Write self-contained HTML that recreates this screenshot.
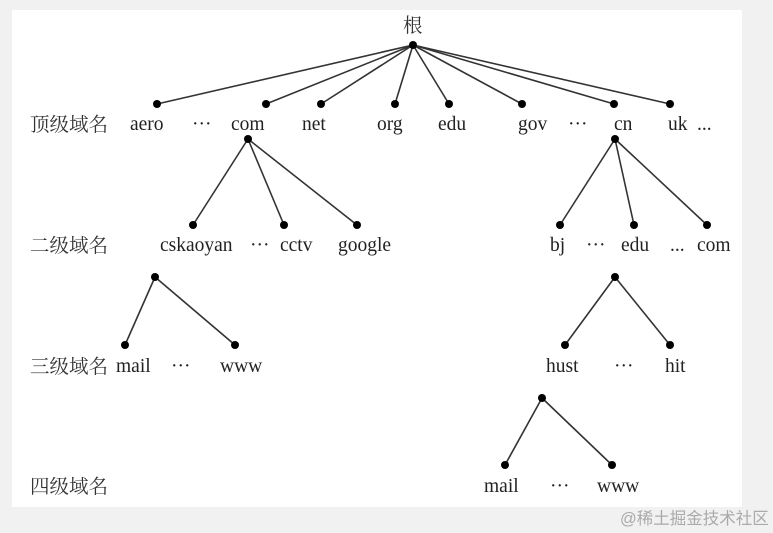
<!DOCTYPE html>
<html><head><meta charset="utf-8"><style>
html,body{margin:0;padding:0;background:#f1f1f1;}
svg{display:block;}
text{font-family:"Liberation Serif","Noto Serif CJK SC",serif;font-size:19.5px;fill:#222;}
.cn{font-family:"Liberation Serif","Noto Serif CJK SC",serif;font-size:19.5px;fill:#333;}
</style></head><body>
<svg width="773" height="533" viewBox="0 0 773 533">
<rect x="12" y="10" width="730" height="497" fill="#fff"/>
<g stroke="#333" stroke-width="1.6">
<line x1="413" y1="45" x2="157" y2="104"/><line x1="413" y1="45" x2="266" y2="104"/>
<line x1="413" y1="45" x2="321" y2="104"/><line x1="413" y1="45" x2="395" y2="104"/>
<line x1="413" y1="45" x2="449" y2="104"/><line x1="413" y1="45" x2="522" y2="104"/>
<line x1="413" y1="45" x2="614" y2="104"/><line x1="413" y1="45" x2="670" y2="104"/>
<line x1="248" y1="139" x2="193" y2="225"/><line x1="248" y1="139" x2="284" y2="225"/><line x1="248" y1="139" x2="357" y2="225"/>
<line x1="615" y1="139" x2="560" y2="225"/><line x1="615" y1="139" x2="634" y2="225"/><line x1="615" y1="139" x2="707" y2="225"/>
<line x1="155" y1="277" x2="125" y2="345"/><line x1="155" y1="277" x2="235" y2="345"/>
<line x1="615" y1="277" x2="565" y2="345"/><line x1="615" y1="277" x2="670" y2="345"/>
<line x1="542" y1="398" x2="505" y2="465"/><line x1="542" y1="398" x2="612" y2="465"/>
</g>
<g fill="#000">
<circle cx="413" cy="45" r="4"/>
<circle cx="157" cy="104" r="4"/><circle cx="266" cy="104" r="4"/><circle cx="321" cy="104" r="4"/><circle cx="395" cy="104" r="4"/><circle cx="449" cy="104" r="4"/><circle cx="522" cy="104" r="4"/><circle cx="614" cy="104" r="4"/><circle cx="670" cy="104" r="4"/>
<circle cx="248" cy="139" r="4"/><circle cx="615" cy="139" r="4"/>
<circle cx="193" cy="225" r="4"/><circle cx="284" cy="225" r="4"/><circle cx="357" cy="225" r="4"/>
<circle cx="560" cy="225" r="4"/><circle cx="634" cy="225" r="4"/><circle cx="707" cy="225" r="4"/>
<circle cx="155" cy="277" r="4"/><circle cx="125" cy="345" r="4"/><circle cx="235" cy="345" r="4"/>
<circle cx="615" cy="277" r="4"/><circle cx="565" cy="345" r="4"/><circle cx="670" cy="345" r="4"/>
<circle cx="542" cy="398" r="4"/><circle cx="505" cy="465" r="4"/><circle cx="612" cy="465" r="4"/>
</g>
<text class="cn" x="403" y="32">根</text>
<text class="cn" x="30" y="131">顶级域名</text>
<text x="130" y="130">aero</text><text x="192" y="130">···</text><text x="231" y="130">com</text><text x="302" y="130">net</text><text x="377" y="130">org</text><text x="438" y="130">edu</text><text x="518" y="130">gov</text><text x="568" y="130">···</text><text x="614" y="130">cn</text><text x="668" y="130">uk</text><text x="697" y="130">...</text>
<text class="cn" x="30" y="252">二级域名</text>
<text x="160" y="251">cskaoyan</text><text x="250" y="251">···</text><text x="280" y="251">cctv</text><text x="338" y="251">google</text><text x="550" y="251">bj</text><text x="586" y="251">···</text><text x="621" y="251">edu</text><text x="670" y="251">...</text><text x="697" y="251">com</text>
<text class="cn" x="30" y="373">三级域名</text>
<text x="116" y="372">mail</text><text x="171" y="372">···</text><text x="220" y="372">www</text><text x="546" y="372">hust</text><text x="614" y="372">···</text><text x="665" y="372">hit</text>
<text class="cn" x="30" y="493">四级域名</text>
<text x="484" y="492">mail</text><text x="550" y="492">···</text><text x="597" y="492">www</text>
<text x="620" y="524" style="font-family:'Liberation Sans','Noto Sans CJK SC',sans-serif;font-size:16.5px;fill:#aaa;">@稀土掘金技术社区</text>
</svg>
</body></html>
